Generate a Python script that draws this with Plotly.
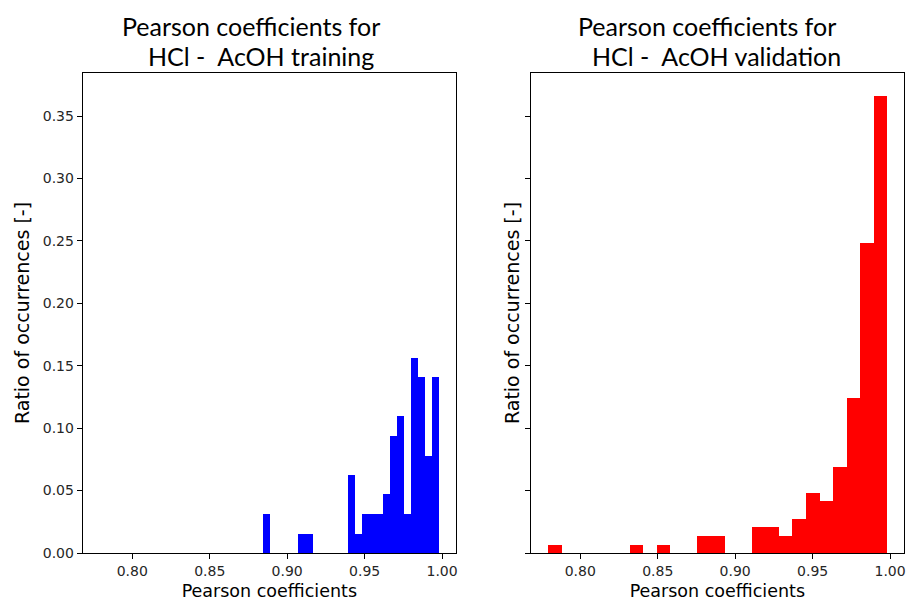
import numpy as np
import plotly.graph_objects as go

# Histogram data: 25 equal-width bins per set, ratio of occurrences per bin
train_edges = (0.8843, 0.9981)
train_ratio = [0.03125, 0, 0, 0, 0, 0.0156, 0.0156, 0, 0, 0, 0, 0,
               0.0625, 0.0156, 0.03125, 0.03125, 0.03125, 0.0469, 0.0938,
               0.1094, 0.03125, 0.1562, 0.1406, 0.0781, 0.1406]

valid_edges = (0.7791, 0.9981)
valid_ratio = [0.0067, 0, 0, 0, 0, 0, 0.0067, 0, 0.0067, 0, 0, 0.0139,
               0.0139, 0, 0, 0.0206, 0.0206, 0.0139, 0.0275, 0.0481,
               0.0417, 0.0689, 0.1241, 0.2483, 0.3663]

x_ticks = [0.80, 0.85, 0.90, 0.95, 1.00]
y_ticks = [0.00, 0.05, 0.10, 0.15, 0.20, 0.25, 0.30, 0.35]

W, H = 908, 601


def bins(edges, ratio):
    e = np.linspace(edges[0], edges[1], len(ratio) + 1)
    return (e[:-1] + e[1:]) / 2, np.diff(e)


fig = go.Figure()
for (edges, ratio, color, xa, ya) in [
    (train_edges, train_ratio, "#0000ff", "x", "y"),
    (valid_edges, valid_ratio, "#ff0000", "x2", "y2"),
]:
    centers, widths = bins(edges, ratio)
    fig.add_trace(go.Bar(x=centers, y=ratio, width=widths,
                         marker=dict(color=color, line=dict(width=0)),
                         xaxis=xa, yaxis=ya, showlegend=False))

tick_font = dict(family="DejaVu Sans", size=14, color="#262626")
xlab_font = dict(family="DejaVu Sans", size=17.5, color="black")
ylab_font = dict(family="DejaVu Sans", size=19, color="black")

ax_common = dict(showline=True, linecolor="black", linewidth=1, mirror=True,
                 ticks="outside", ticklen=5, tickwidth=1, tickcolor="black",
                 showgrid=False, zeroline=False, tickfont=tick_font,
                 automargin=False)

ydom = [1 - 553 / H, 1 - 73 / H]
fig.update_layout(
    width=W, height=H, margin=dict(l=0, r=0, t=0, b=0),
    plot_bgcolor="white", paper_bgcolor="white", bargap=0,
    xaxis=dict(domain=[82.7 / W, 456 / W], range=[0.768, 1.009],
               tickvals=x_ticks, tickformat=".2f",
               title=dict(text="Pearson coefficients", font=xlab_font, standoff=7),
               **ax_common),
    yaxis=dict(domain=ydom, range=[0, 0.3845], tickvals=y_ticks, tickformat=".2f",
               title=dict(text="Ratio of occurrences [-]", font=ylab_font,
                          standoff=8),
               **ax_common),
    xaxis2=dict(domain=[530.7 / W, 904 / W], range=[0.768, 1.009],
                tickvals=x_ticks, tickformat=".2f", anchor="y2",
                title=dict(text="Pearson coefficients", font=xlab_font, standoff=7),
                **ax_common),
    yaxis2=dict(domain=ydom, range=[0, 0.3845], tickvals=y_ticks,
                showticklabels=False, anchor="x2",
                title=dict(text="Ratio of occurrences [-]", font=ylab_font,
                           standoff=0),
                **ax_common),
)

title_font = dict(family="Lato", size=25, color="black")
titles = [
    ("Pearson coefficients for", 250.5, 25.6),
    ("HCl -\u00a0 AcOH training", 261, 56.0),
    ("Pearson coefficients for", 707.3, 25.6),
    ("HCl -\u00a0 AcOH validation", 716.5, 56.0),
]
for text, cx, cy in titles:
    fig.add_annotation(text=text, xref="paper", yref="paper",
                       x=cx / W, y=1 - cy / H, xanchor="center", yanchor="middle",
                       showarrow=False, font=title_font,
                       borderpad=0, borderwidth=0)

fig.write_html("out.html")
